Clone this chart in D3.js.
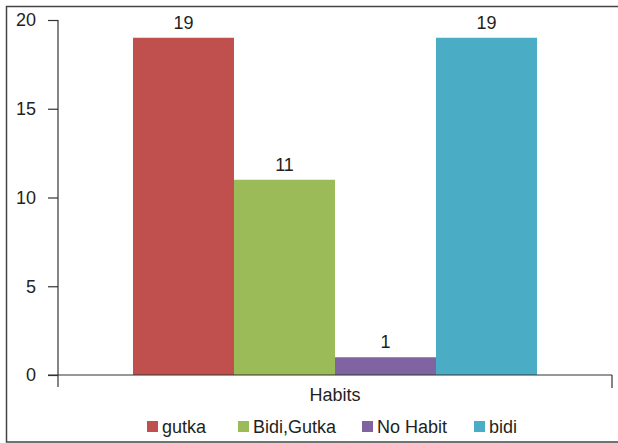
<!DOCTYPE html>
<html>
<head>
<meta charset="utf-8">
<script src="https://cdn.jsdelivr.net/npm/d3@7"></script>
<style>
  html, body { margin: 0; padding: 0; background: #fff; }
  svg { display: block; }
  text { font-family: "Liberation Sans", Arial, Helvetica, sans-serif; fill: #231f20; }
</style>
</head>
<body>
<script>
const categories = ["Habits"];
const seriesNames = ["gutka", "Bidi,Gutka", "No Habit", "bidi"];
const seriesValues = [19, 11, 1, 19];
const seriesColors = ["#C0504D", "#9BBB59", "#8064A2", "#4BACC6"];
const yTicks = [0, 5, 10, 15, 20];

const W = 618, H = 443;
const svg = d3.select("body").append("svg").attr("width", W).attr("height", H);
const fontSize = 18;
const axisColor = "#333";

// outer frame
svg.append("rect").attr("x", 6.5).attr("y", 6.5).attr("width", 620).attr("height", 435.5)
  .attr("fill", "none").attr("stroke", "#444").attr("stroke-width", 1.5);

const plotLeft = 58, plotRight = 612, plotTop = 20, plotBottom = 375;

const y = d3.scaleLinear().domain([0, 20]).range([plotBottom, plotTop]);
const x0 = d3.scaleBand().domain(categories).range([plotLeft, plotRight]).paddingInner(0).paddingOuter(0.1856);
const x1 = d3.scaleBand().domain(seriesNames).range([0, x0.bandwidth()]).padding(0);

// bars
const data = seriesNames.map((s, i) => ({ name: s, value: seriesValues[i], color: seriesColors[i], cat: categories[0] }));
const g = svg.append("g");
g.selectAll("rect.bar").data(data).enter().append("rect")
  .attr("class", "bar")
  .attr("x", d => x0(d.cat) + x1(d.name))
  .attr("y", d => y(d.value))
  .attr("width", x1.bandwidth())
  .attr("height", d => y(0) - y(d.value))
  .attr("fill", d => d.color);

// value labels
g.selectAll("text.val").data(data).enter().append("text")
  .attr("class", "val")
  .attr("x", d => x0(d.cat) + x1(d.name) + x1.bandwidth() / 2)
  .attr("y", d => y(d.value) - 9)
  .attr("text-anchor", "middle")
  .attr("font-size", fontSize)
  .text(d => d.value);

// y axis
const yAxis = d3.axisLeft(y).tickValues(yTicks).tickSize(10).tickPadding(12).tickSizeOuter(0);
const yg = svg.append("g").attr("transform", `translate(${plotLeft},0)`).call(yAxis);
yg.select(".domain").remove();
yg.selectAll(".tick line").attr("stroke", axisColor).attr("stroke-width", 1.2);
yg.selectAll(".tick text").attr("font-size", fontSize).attr("font-family", "Liberation Sans, Arial, sans-serif").attr("fill", "#231f20");
yg.append("line").attr("x1", 0).attr("x2", 0).attr("y1", plotTop).attr("y2", plotBottom + 12)
  .attr("stroke", axisColor).attr("stroke-width", 1.2);

// x axis
const xg = svg.append("g");
xg.append("line").attr("x1", plotLeft - 10).attr("x2", plotRight).attr("y1", plotBottom).attr("y2", plotBottom)
  .attr("stroke", axisColor).attr("stroke-width", 1.2);
xg.append("line").attr("x1", plotRight).attr("x2", plotRight).attr("y1", plotBottom).attr("y2", plotBottom + 13)
  .attr("stroke", axisColor).attr("stroke-width", 1.2);
xg.selectAll("text.cat").data(categories).enter().append("text")
  .attr("class", "cat")
  .attr("x", d => x0(d) + x0.bandwidth() / 2)
  .attr("y", 401)
  .attr("text-anchor", "middle")
  .attr("font-size", fontSize)
  .text(d => d);

// legend
const legendX = [147, 238, 362, 474];
const lg = svg.append("g");
const items = lg.selectAll("g.item").data(data).enter().append("g").attr("class", "item")
  .attr("transform", (d, i) => `translate(${legendX[i]},421)`);
items.append("rect").attr("width", 11).attr("height", 11).attr("fill", d => d.color);
items.append("text").attr("x", 15).attr("y", 12).attr("font-size", fontSize).text(d => d.name);
</script>
</body>
</html>
